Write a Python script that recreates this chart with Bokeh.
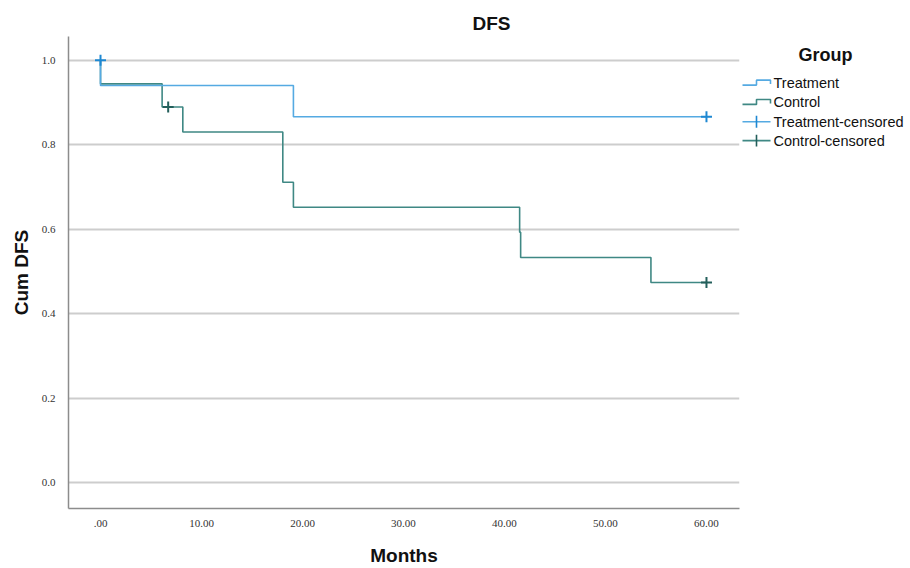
from bokeh.plotting import figure
from bokeh.layouts import row
from bokeh.models import Range1d, FixedTicker
from bokeh.core.properties import value
from bokeh.embed import file_html
from bokeh.resources import INLINE

# ---- data ----
x_ticks = [0, 10, 20, 30, 40, 50, 60]
x_tick_labels = [".00", "10.00", "20.00", "30.00", "40.00", "50.00", "60.00"]
y_ticks = [0.0, 0.2, 0.4, 0.6, 0.8, 1.0]
y_tick_labels = ["0.0", "0.2", "0.4", "0.6", "0.8", "1.0"]

treat_time = [0, 0, 19.1, 60]
treat_surv = [1.0, 0.94, 0.866, 0.866]
treat_cens_time = [0, 60]
treat_cens_surv = [1.0, 0.866]

ctrl_time = [0, 0, 6.1, 8.15, 18.05, 19.1, 41.5, 41.6, 54.5, 60]
ctrl_surv = [1.0, 0.944, 0.889, 0.830, 0.711, 0.652, 0.593, 0.533, 0.474, 0.474]
ctrl_cens_time = [6.7, 60]
ctrl_cens_surv = [0.889, 0.474]

title_text = "DFS"
x_label = "Months"
y_label = "Cum DFS"
legend_title = "Group"
series_names = ["Treatment", "Control", "Treatment-censored", "Control-censored"]

# ---- styles ----
TREAT_LINE = "#55aae2"
TREAT_MARK = "#1e88d2"
CTRL_LINE = "#3f8884"
CTRL_MARK = "#235f5b"
SANS = "Liberation Sans"
SERIF = "Liberation Serif"

p = figure(width=741, height=568, output_backend="svg", toolbar_location=None,
           x_range=Range1d(-3.17, 63.27), y_range=Range1d(-0.061, 1.056),
           min_border_left=68, min_border_right=2, min_border_top=36, min_border_bottom=56)
p.outline_line_color = None

p.title.text = title_text
p.title.align = "left"
p.title.offset = 472 - 68
p.title.standoff = 5
p.title.text_font = SANS
p.title.text_font_size = "19px"
p.title.text_font_style = "bold"
p.title.text_color = "#111111"

p.xgrid.grid_line_color = None
p.ygrid.ticker = FixedTicker(ticks=y_ticks)
p.ygrid.grid_line_color = "#cdcdcd"
p.ygrid.grid_line_width = 2

for ax in (p.xaxis[0], p.yaxis[0]):
    ax.axis_line_color = "#8c8c8c"
    ax.axis_line_width = 1.5
    ax.major_tick_line_color = None
    ax.minor_tick_line_color = None
    ax.major_label_text_font = SERIF
    ax.major_label_text_font_size = "11px"
    ax.major_label_text_color = "#333333"
    ax.axis_label_text_font = SANS
    ax.axis_label_text_font_size = "19px"
    ax.axis_label_text_font_style = "bold"
    ax.axis_label_text_color = "#111111"

p.xaxis.ticker = FixedTicker(ticks=x_ticks)
p.xaxis.major_label_overrides = {t: l for t, l in zip(x_ticks, x_tick_labels)}
p.xaxis.major_label_standoff = 5
p.xaxis.axis_label = x_label
p.xaxis.axis_label_standoff = 15
p.yaxis.ticker = FixedTicker(ticks=y_ticks)
p.yaxis.major_label_overrides = {t: l for t, l in zip(y_ticks, y_tick_labels)}
p.yaxis.major_label_standoff = 7
p.yaxis.axis_label = y_label
p.yaxis.axis_label_standoff = 7

p.step(ctrl_time, ctrl_surv, mode="after", line_color=CTRL_LINE, line_width=1.6)
p.step(treat_time, treat_surv, mode="after", line_color=TREAT_LINE, line_width=1.6)
p.scatter(ctrl_cens_time, ctrl_cens_surv, marker="cross", size=11,
          line_color=CTRL_MARK, line_width=2)
p.scatter(treat_cens_time, treat_cens_surv, marker="cross", size=11,
          line_color=TREAT_MARK, line_width=2)

# ---- legend panel (pixel coordinates; its frame is aligned with the plot's frame) ----
q = figure(width=169, height=568, output_backend="svg", toolbar_location=None,
           x_range=Range1d(0, 169), y_range=Range1d(512, 36),
           x_axis_type=None, y_axis_type=None,
           min_border=0, min_border_left=0, min_border_right=0,
           min_border_top=36, min_border_bottom=56)
q.outline_line_color = None
q.grid.grid_line_color = None

rows_y = [83, 102.5, 122, 141]
icon_x0, icon_x1, text_x = 1, 29, 32
colors_line = [TREAT_LINE, CTRL_LINE, TREAT_LINE, CTRL_LINE]
colors_mark = [TREAT_MARK, CTRL_MARK, TREAT_MARK, CTRL_MARK]

q.text(x=[84], y=[55], text=[legend_title], text_font=value(SANS), text_font_size="18px",
       text_font_style="bold", text_align="center", text_baseline="middle", text_color="#111111")

for i, (name, yy) in enumerate(zip(series_names, rows_y)):
    mid = (icon_x0 + icon_x1) / 2
    if i < 2:
        q.line(x=[icon_x0, mid, mid, icon_x1, icon_x1], y=[yy + 2, yy + 2, yy - 3, yy - 3, yy + 1],
               line_color=colors_line[i], line_width=1.6)
    else:
        q.line(x=[icon_x0, icon_x1], y=[yy, yy], line_color=colors_line[i], line_width=1.6)
        q.segment(x0=[mid], y0=[yy - 6], x1=[mid], y1=[yy + 6], line_color=colors_mark[i], line_width=1.6)
    q.text(x=[text_x], y=[yy], text=[name], text_font=value(SANS), text_font_size="14.5px",
           text_align="left", text_baseline="middle", text_color="#111111")

layout = row(p, q)
open("out.html", "w").write(file_html(layout, INLINE))
